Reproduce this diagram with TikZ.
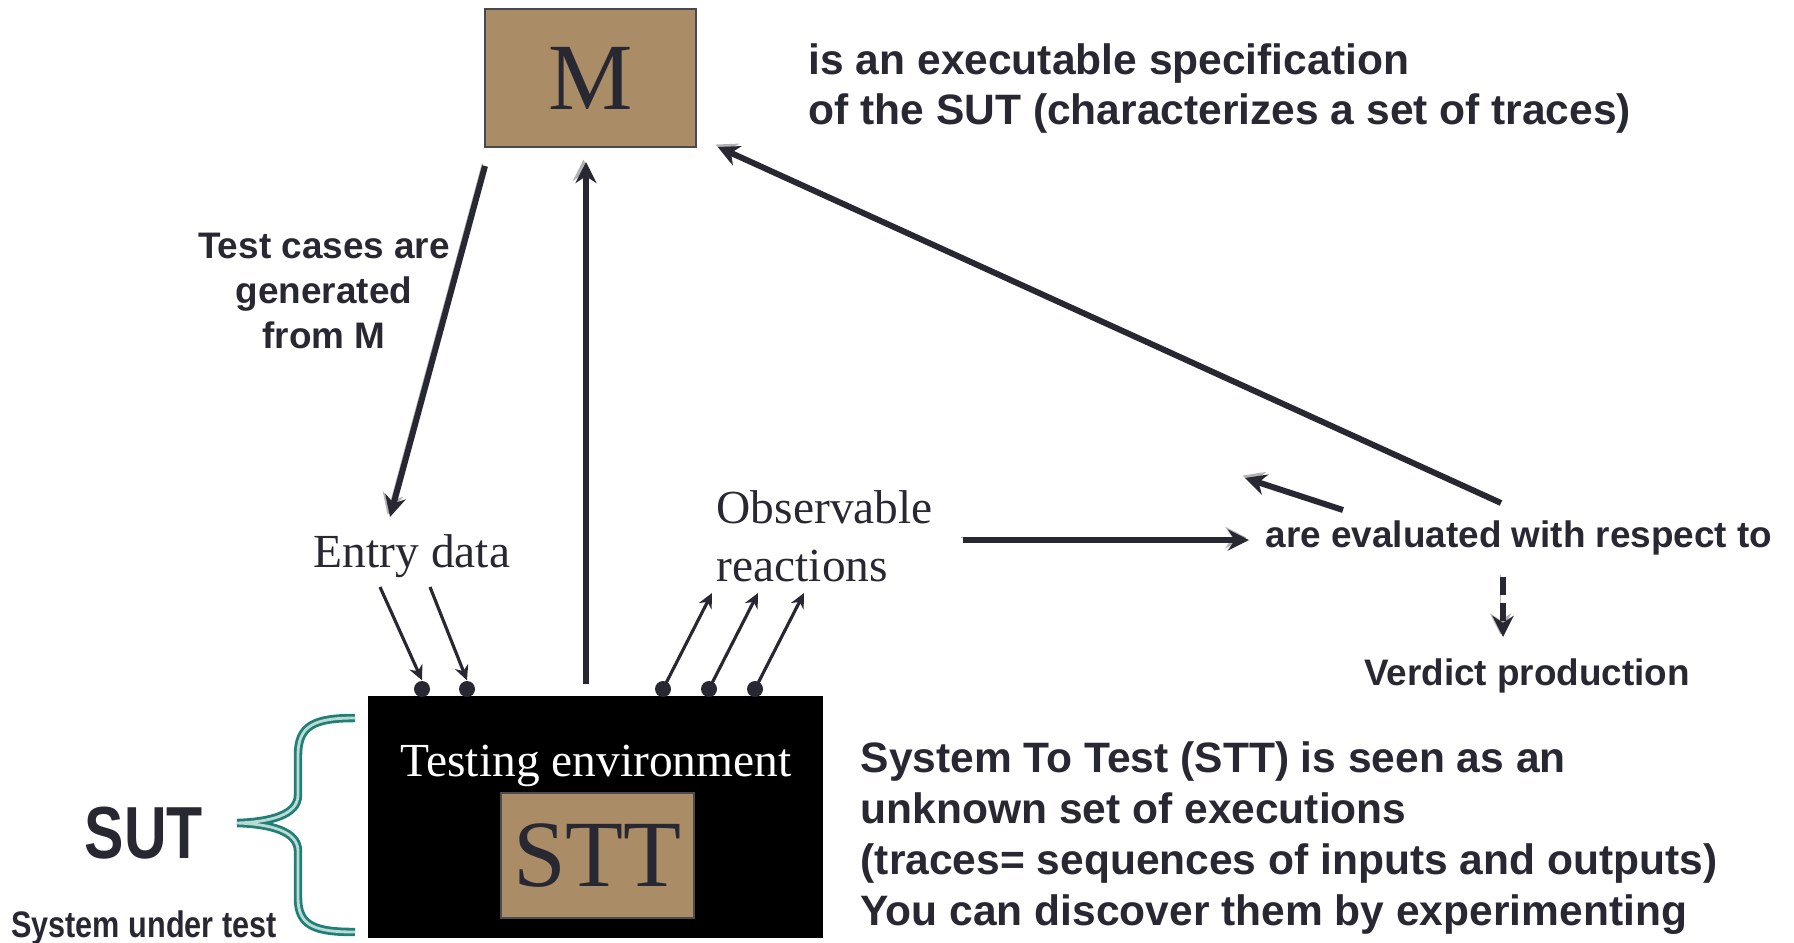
\documentclass[tikz,border=0pt]{standalone}
\usepackage{fontspec}
\setmainfont{Liberation Serif}
\setsansfont{Liberation Sans}
\usepackage{xcolor}
\usetikzlibrary{shapes,arrows.meta,positioning,calc}

\definecolor{ink}{RGB}{40,40,50}
\definecolor{boxtan}{RGB}{170,140,102}
\definecolor{braceteal}{RGB}{32,128,118}

\begin{document}
\begin{tikzpicture}[x=0.1mm, y=-0.1mm,
  serif/.style={font=\fontsize{13.5}{16.5}\selectfont, text=ink, inner sep=0},
  note/.style={font=\sffamily\bfseries\fontsize{12.1}{14.5}\selectfont, text=ink, align=left, inner sep=0},
  small/.style={font=\sffamily\bfseries\fontsize{10.5}{12.8}\selectfont, text=ink, inner sep=0},
  bigarrow/.style={-{Stealth[length=6pt,width=6pt]}, line width=1.7pt, draw=ink,
    preaction={draw=gray!60, transform canvas={xshift=-0.7pt, yshift=0.7pt}}},
  thinarrow/.style={-{Stealth[length=4.2pt,width=4pt]}, line width=0.9pt, draw=ink},
  pin/.style={circle, fill=ink, inner sep=0, minimum size=1.6mm}]

  \useasboundingbox (0,0) rectangle (1794,942);

  % Model M
  \node (M) [draw=ink!85, line width=0.6pt, fill=boxtan, minimum width=21.1mm, minimum height=13.8mm,
    font=\fontsize{27}{30}\selectfont, text=ink] at (590.5,78) {M};
  \node (spec) [note, anchor=west] at (808,88.5) {is an executable specification\\of the SUT (characterizes a set of traces)};

  % Testing environment and STT
  \node (env) [fill=black, minimum width=45.5mm, minimum height=24.2mm, inner sep=0] at (595.5,817) {};
  \node (envlabel) [serif, text=white] at (596,766) {Testing environment};
  \node (STT) [draw=gray!60!black, line width=0.6pt, fill=boxtan, minimum width=19.1mm, minimum height=12.5mm,
    font=\fontsize{27}{30}\selectfont, text=ink] at (597.5,855.5) {STT};
  \node (system) [note, anchor=west] at (860,838) {System To Test (STT) is seen as an\\unknown set of executions\\(traces= sequences of inputs and outputs)\\You can discover them by experimenting};

  % SUT brace
  \node (SUT) [font=\sffamily\bfseries\fontsize{21}{25}\selectfont, text=ink, inner sep=0] at (144,833) {\scalebox{0.8}[1]{SUT}};
  \node (sutname) [small] at (144,928) {\scalebox{0.83}[1]{System under test}};
  \draw[draw=braceteal, double=braceteal!30!white, double distance=0.8pt, line width=0.8pt]
    (355,718) .. controls (315,718) and (298,725) .. (298,755) -- (298,795)
    .. controls (298,815) and (270,822) .. (237,823)
    .. controls (270,824) and (298,831) .. (298,851) -- (298,898)
    .. controls (298,926) and (315,932) .. (355,932);

  % Test generation
  \node (gen) [small, align=center] at (324,291) {Test cases are\\generated\\from M};
  \coordinate (genstart) at (485,166);
  \coordinate (genend) at (390,517);
  \draw[bigarrow] (genstart) -- (genend);

  % Entry data
  \node (entry) [serif] at (412,556) {Entry data};
  \node (in1) [pin] at (422,689) {};
  \node (in2) [pin] at (467,689) {};
  \coordinate (in1start) at (380,587);
  \coordinate (in2start) at (430,587);
  \draw[thinarrow] (in1start) -- (in1.north);
  \draw[thinarrow] (in2start) -- (in2.north);

  % Back to the model
  \coordinate (upstart) at (586,684);
  \coordinate (upend) at (586,162);
  \draw[bigarrow] (upstart) -- (upend);

  % Observable reactions
  \node (obs) [serif, align=left, anchor=west] at (716,536) {Observable\\reactions};
  \foreach \i/\x in {1/663, 2/709, 3/755} {
    \node (out\i) [pin] at (\x,689) {};
    \coordinate (tip\i) at ($(out\i)+(49,-96)$);
    \draw[thinarrow] (out\i.center) -- (tip\i);
  }

  % Evaluation
  \node (eval) [small, anchor=west] at (1265,538) {are evaluated with respect to};
  \node (verdict) [small] at (1527,676) {Verdict production};
  \coordinate (obsstart) at (963,540);
  \coordinate (obsend) at (1249,540);
  \draw[bigarrow] (obsstart) -- (obsend);
  \coordinate (backstart) at (1343,510);
  \coordinate (backend) at (1245,478);
  \draw[bigarrow] (backstart) -- (backend);
  \coordinate (specstart) at (1501,503);
  \coordinate (specend) at (718,147);
  \draw[bigarrow] (specstart) -- (specend);
  \coordinate (verdstart) at (1503,577);
  \coordinate (verdend) at (1503,637);
  \draw[bigarrow, dash pattern=on 1.8mm off 0.8mm] (verdstart) -- (verdend);
\end{tikzpicture}
\end{document}
